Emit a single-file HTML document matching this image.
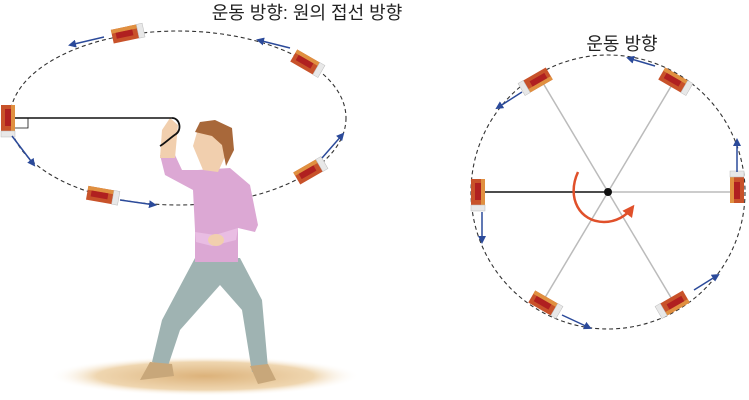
<!DOCTYPE html>
<html><head><meta charset="utf-8"><style>
html,body{margin:0;padding:0;background:#fff;}
svg{display:block;}
text{font-family:"Liberation Sans","Noto Sans CJK KR","NanumGothic",sans-serif;}
</style></head><body>
<svg width="749" height="400" viewBox="0 0 749 400" xmlns="http://www.w3.org/2000/svg">
<defs>
<radialGradient id="gnd" cx="50%" cy="50%" r="50%">
<stop offset="0" stop-color="#dcb27a"/><stop offset="0.7" stop-color="#efd6b0"/><stop offset="1" stop-color="#fff" stop-opacity="0"/>
</radialGradient>
<marker id="ab" markerWidth="8" markerHeight="8" refX="6" refY="4" orient="auto" markerUnits="userSpaceOnUse"><path d="M0,0 L8,4 L0,8 z" fill="#2b4a9a"/></marker>
<marker id="ar" markerWidth="12" markerHeight="12" refX="8" refY="6" orient="auto" markerUnits="userSpaceOnUse"><path d="M0,0 L12,6 L0,12 z" fill="#e0502a"/></marker>
<g id="er">
<rect x="-13" y="-7" width="26" height="14" fill="#c8522a"/>
<rect x="-13" y="-7" width="26" height="4" fill="#e09040"/>
<rect x="-9" y="-3" width="17" height="6" fill="#b02020"/>
<rect x="13" y="-7" width="6" height="14" fill="#e8e8e8" stroke="#bbb" stroke-width="0.5"/>
</g>
</defs>

<text x="307" y="19" font-size="18" text-anchor="middle" fill="#222">운동 방향: 원의 접선 방향</text>
<text x="622" y="50" font-size="18" text-anchor="middle" fill="#222">운동 방향</text>

<ellipse cx="205" cy="376" rx="155" ry="20" fill="url(#gnd)"/>

<ellipse cx="178" cy="118" rx="168" ry="87" fill="none" stroke="#333" stroke-width="1.1" stroke-dasharray="4,3"/>

<g>
<path d="M195,258 L240,258 L262,300 L268,368 L252,372 L242,310 L220,285 L180,330 L168,366 L152,362 L162,320 Z" fill="#9fb3b2"/>
<path d="M150,362 L172,364 L174,376 L140,380 Z" fill="#c8a77a"/>
<path d="M250,366 L268,364 L276,380 L258,384 Z" fill="#c8a77a"/>
<path d="M198,170 L230,168 L250,185 L258,225 L255,232 L238,228 L238,262 L195,262 L195,230 L193,190 L165,175 L160,155 L175,155 L182,170 Z" fill="#dca8d4"/>
<path d="M195,232 L215,235 L238,228 L236,240 L212,246 L196,242 Z" fill="#e9bde3"/>
<path d="M160,158 L175,158 L178,125 L170,118 L162,130 Z" fill="#f1cfae"/>
<ellipse cx="216" cy="240" rx="8" ry="6" fill="#f1cfae"/>
<path d="M193,146 L200,122 L222,124 L228,150 L218,172 L203,170 Z" fill="#f1cfae"/>
<path d="M195,132 L200,122 L215,120 L232,128 L234,150 L226,166 L222,145 L212,136 Z" fill="#a8683a"/>
</g>

<line x1="14" y1="118" x2="172" y2="118" stroke="#111" stroke-width="1.4"/>
<path d="M172,118 C180,118 182,130 176,134 C170,138 164,144 160,146" fill="none" stroke="#111" stroke-width="1.8"/>
<path d="M14,118 L28,118 L28,128 L14,128" fill="none" stroke="#111" stroke-width="0.8"/>

<use href="#er" transform="translate(8,118) rotate(90)"/>
<use href="#er" transform="translate(125,34) rotate(-12)"/>
<use href="#er" transform="translate(305,62) rotate(30)"/>
<use href="#er" transform="translate(308,172) rotate(-30)"/>
<use href="#er" transform="translate(100,195) rotate(10)"/>
<line x1="104" y1="37" x2="70" y2="45" stroke="#2b4a9a" stroke-width="1.5" marker-end="url(#ab)"/>
<line x1="290" y1="48" x2="258" y2="40" stroke="#2b4a9a" stroke-width="1.5" marker-end="url(#ab)"/>
<line x1="12" y1="136" x2="34" y2="165" stroke="#2b4a9a" stroke-width="1.5" marker-end="url(#ab)"/>
<line x1="120" y1="200" x2="155" y2="205" stroke="#2b4a9a" stroke-width="1.5" marker-end="url(#ab)"/>
<line x1="322" y1="158" x2="343" y2="134" stroke="#2b4a9a" stroke-width="1.5" marker-end="url(#ab)"/>

<circle cx="608" cy="192" r="137" fill="none" stroke="#333" stroke-width="1.1" stroke-dasharray="4,3"/>
<g stroke="#bbb" stroke-width="1.5">
<line x1="608" y1="192" x2="740" y2="192"/>
<line x1="608" y1="192" x2="540" y2="78"/>
<line x1="608" y1="192" x2="676" y2="78"/>
<line x1="608" y1="192" x2="540" y2="306"/>
<line x1="608" y1="192" x2="676" y2="306"/>
</g>
<line x1="478" y1="192" x2="608" y2="192" stroke="#111" stroke-width="1.5"/>
<circle cx="608" cy="192" r="4" fill="#111"/>
<path d="M578,172 C566,198 580,222 604,222 C616,222 626,216 632,208" fill="none" stroke="#e0502a" stroke-width="2.5" marker-end="url(#ar)"/>

<use href="#er" transform="translate(478,192) rotate(90)"/>
<use href="#er" transform="translate(737,190) rotate(-90)"/>
<use href="#er" transform="translate(538,80) rotate(150)"/>
<use href="#er" transform="translate(673,80) rotate(30)"/>
<use href="#er" transform="translate(543,303) rotate(30)"/>
<use href="#er" transform="translate(675,303) rotate(150)"/>
<line x1="482" y1="212" x2="482" y2="242" stroke="#2b4a9a" stroke-width="1.5" marker-end="url(#ab)"/>
<line x1="737" y1="172" x2="737" y2="140" stroke="#2b4a9a" stroke-width="1.5" marker-end="url(#ab)"/>
<line x1="522" y1="92" x2="497" y2="108" stroke="#2b4a9a" stroke-width="1.5" marker-end="url(#ab)"/>
<line x1="655" y1="66" x2="628" y2="58" stroke="#2b4a9a" stroke-width="1.5" marker-end="url(#ab)"/>
<line x1="562" y1="315" x2="590" y2="328" stroke="#2b4a9a" stroke-width="1.5" marker-end="url(#ab)"/>
<line x1="694" y1="290" x2="718" y2="275" stroke="#2b4a9a" stroke-width="1.5" marker-end="url(#ab)"/>
</svg>
</body></html>
